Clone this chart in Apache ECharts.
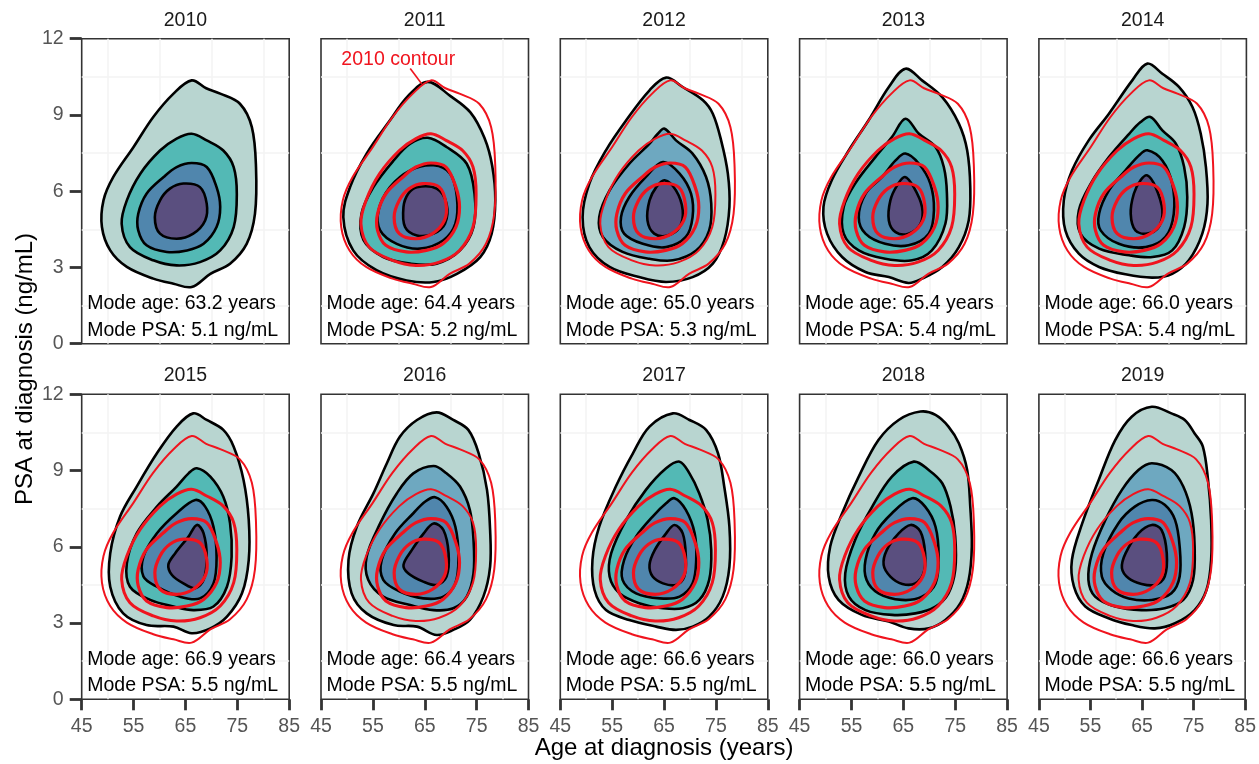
<!DOCTYPE html>
<html>
<head>
<meta charset="utf-8">
<script src="https://cdn.jsdelivr.net/npm/echarts@6/dist/echarts.min.js"></script>
<style>html,body{margin:0;padding:0;background:#fff}#main{width:1259px;height:764px}</style>
</head>
<body>
<div id="main"></div>
<script>
const years = [2010, 2011, 2012, 2013, 2014, 2015, 2016, 2017, 2018, 2019];
const modeAge = [63.2, 64.4, 65.0, 65.4, 66.0, 66.9, 66.4, 66.6, 66.0, 66.6];
const modePsa = [5.1, 5.2, 5.3, 5.4, 5.4, 5.5, 5.5, 5.5, 5.5, 5.5];
const ageRange = [45, 85, 10];
const psaRange = [0, 12, 3];
// years where the 2nd band is drawn in the lighter blue
const lightBand2Years = [2012, 2016, 2019];

// contours, outer -> inner, points [age, psa]
const c2010 = [
  [[66.2,10.36],[69.0,10.05],[71.7,9.84],[75.5,9.44],[77.8,8.52],[78.6,6.95],[78.4,5.11],[76.8,3.93],[73.6,3.15],[69.8,2.75],[66.2,2.23],[62.7,2.36],[58.8,2.56],[53.7,3.02],[50.5,3.67],[48.9,4.59],[49.2,5.64],[51.1,6.56],[55.0,7.74],[58.8,8.92],[62.7,9.84]],
  [[66.2,8.26],[69.1,8.0],[72.3,7.6],[74.3,6.95],[74.9,5.9],[74.3,4.59],[71.7,3.67],[67.8,3.21],[63.3,3.08],[58.8,3.28],[54.3,3.8],[52.7,4.72],[53.7,5.64],[56.3,6.69],[60.1,7.6],[63.3,8.07]],
  [[66.2,7.11],[69.1,6.95],[71.0,6.16],[71.7,5.38],[71.0,4.59],[68.5,3.93],[65.3,3.67],[61.4,3.61],[57.5,3.87],[55.9,4.46],[55.9,5.11],[57.5,5.9],[60.8,6.56],[63.3,6.95]],
  [[64.6,6.3],[67.8,6.16],[69.1,5.51],[68.8,4.85],[66.5,4.33],[63.3,4.13],[60.1,4.33],[59.1,4.98],[60.1,5.64],[62.0,6.1]]
];
const c2011 = [
  [[65.6,10.3],[69.9,9.75],[73.8,9.1],[76.5,8.1],[78.0,7.0],[78.6,5.64],[77.9,4.33],[75.7,3.41],[71.2,2.75],[66.7,2.43],[61.5,2.49],[55.7,2.89],[51.2,3.67],[49.3,4.98],[50.6,6.16],[53.8,7.48],[58.3,8.79],[61.8,9.75]],
  [[65.6,8.1],[69.2,7.74],[73.1,7.08],[74.6,5.9],[74.4,4.59],[71.8,3.67],[67.3,3.15],[62.2,3.15],[57.0,3.41],[53.2,4.07],[52.8,5.11],[55.1,6.16],[59.0,7.21],[62.2,7.87]],
  [[66.7,7.02],[69.9,6.69],[71.2,5.77],[70.9,4.72],[68.6,4.07],[64.1,3.74],[59.6,3.93],[56.4,4.46],[56.1,5.25],[58.3,6.16],[62.2,6.82]],
  [[63.5,6.16],[67.3,6.1],[69.2,5.51],[68.9,4.72],[66.7,4.33],[63.5,4.26],[61.2,4.59],[60.9,5.38],[61.8,5.9]]
];
const c2012 = [
  [[65.4,10.47],[68.6,10.1],[72.5,9.58],[74.4,9.05],[76.0,8.0],[77.3,6.69],[77.6,5.38],[76.6,4.07],[74.4,3.15],[70.5,2.62],[65.4,2.43],[60.2,2.62],[54.5,3.02],[50.6,3.8],[49.3,4.98],[50.6,6.3],[53.8,7.61],[57.7,8.79],[62.2,9.97]],
  [[65.1,8.46],[67.3,8.0],[70.5,7.48],[73.1,6.56],[74.1,5.51],[73.7,4.46],[71.2,3.67],[66.7,3.28],[62.2,3.34],[57.0,3.61],[53.2,4.2],[52.5,4.98],[54.5,6.03],[58.3,7.08],[62.2,7.87],[63.8,8.26]],
  [[64.8,7.15],[68.0,6.69],[70.2,5.9],[70.5,4.98],[69.2,4.2],[65.4,3.8],[60.9,3.93],[57.3,4.33],[56.7,4.98],[58.3,5.77],[61.5,6.56]],
  [[65.1,6.43],[67.3,6.03],[68.6,5.25],[68.0,4.59],[65.7,4.26],[63.1,4.33],[61.8,4.85],[62.2,5.64],[63.5,6.16]]
];
const c2013 = [
  [[65.4,10.82],[68.6,10.36],[72.5,9.7],[75.7,8.66],[77.3,7.61],[77.9,6.16],[77.6,4.85],[75.7,3.8],[72.5,3.02],[68.6,2.56],[66.0,2.39],[62.2,2.62],[57.7,2.82],[53.2,3.41],[50.3,4.33],[49.6,5.38],[51.2,6.43],[54.5,7.61],[58.3,8.79],[62.2,10.1]],
  [[65.4,8.85],[68.0,8.26],[71.2,7.74],[72.8,6.95],[73.4,5.9],[73.1,4.72],[70.5,3.67],[66.7,3.28],[61.5,3.34],[56.4,3.67],[53.5,4.33],[53.5,5.38],[55.7,6.3],[59.6,7.34],[62.8,8.13]],
  [[65.4,7.48],[68.0,7.08],[70.2,6.3],[70.9,5.25],[69.9,4.33],[66.0,3.87],[61.5,3.93],[57.7,4.33],[56.4,4.98],[57.7,5.9],[60.9,6.56],[63.5,7.21]],
  [[65.3,6.56],[67.0,6.16],[68.6,5.38],[68.3,4.72],[66.0,4.33],[63.5,4.39],[62.2,4.85],[62.5,5.64],[63.8,6.23]]
];
const c2014 = [
  [[65.9,11.02],[68.8,10.62],[72.0,10.1],[74.6,9.31],[76.2,8.26],[77.2,6.95],[77.5,5.51],[76.5,4.33],[73.9,3.28],[70.7,2.75],[66.9,2.6],[61.7,2.73],[56.6,3.02],[52.7,3.54],[50.1,4.46],[49.8,5.64],[51.4,6.82],[54.6,8.0],[58.5,9.05],[63.0,10.36]],
  [[66.5,8.92],[68.8,8.39],[71.4,7.87],[73.0,6.95],[73.6,5.77],[73.0,4.59],[70.7,3.67],[66.9,3.41],[62.4,3.48],[56.6,3.74],[53.0,4.33],[52.7,5.25],[55.0,6.3],[58.5,7.34],[62.4,8.26],[64.6,8.72]],
  [[65.9,7.61],[68.8,7.21],[70.7,6.3],[71.0,5.11],[69.4,4.2],[65.6,3.8],[60.4,3.93],[56.9,4.46],[56.6,5.11],[58.5,6.03],[61.7,6.82],[64.3,7.41]],
  [[65.9,6.62],[67.5,6.16],[68.8,5.25],[68.1,4.59],[65.9,4.33],[63.6,4.46],[62.7,5.11],[63.3,5.9],[64.6,6.43]]
];
const c2015 = [
  [[66.5,11.25],[69.1,10.99],[72.3,10.6],[74.3,9.94],[76.2,8.63],[77.2,7.06],[77.2,5.48],[75.9,4.17],[73.0,3.25],[69.8,2.79],[66.2,2.6],[62.7,2.86],[57.5,2.92],[53.0,3.38],[50.5,4.43],[50.5,5.74],[52.4,7.19],[55.6,8.37],[59.5,9.68],[63.3,10.73]],
  [[67.2,9.09],[69.8,8.76],[72.3,7.97],[73.6,6.92],[73.9,5.61],[73.0,4.43],[70.4,3.65],[66.5,3.51],[62.7,3.65],[58.2,3.91],[54.3,4.43],[53.7,5.35],[55.6,6.53],[59.5,7.58],[63.3,8.37],[65.6,8.89]],
  [[66.9,7.84],[68.8,7.58],[70.4,6.79],[71.0,5.61],[70.4,4.56],[67.8,3.97],[63.9,4.04],[59.5,4.43],[56.9,4.83],[56.9,5.61],[59.5,6.53],[63.3,7.32]],
  [[67.2,6.86],[68.5,6.53],[69.1,5.61],[68.5,4.7],[66.9,4.37],[64.6,4.56],[62.4,4.89],[61.7,5.29],[63.0,5.74],[65.6,6.4]]
];
const c2016 = [
  [[67.3,11.29],[70.5,10.99],[73.4,10.6],[75.4,9.68],[77.0,8.24],[77.6,6.66],[77.6,5.22],[76.3,4.04],[73.7,3.12],[70.5,2.73],[67.3,2.53],[63.5,2.86],[59.0,2.92],[53.8,3.38],[50.9,4.17],[50.3,5.48],[51.9,6.79],[55.1,8.1],[57.7,9.29],[60.2,10.33],[63.5,10.99]],
  [[66.7,9.18],[69.2,8.89],[71.8,8.37],[73.7,7.45],[74.4,6.27],[74.4,4.96],[73.1,4.04],[70.5,3.58],[66.7,3.51],[62.2,3.71],[57.0,4.04],[54.1,4.7],[53.8,5.61],[56.4,6.92],[59.6,8.1],[62.8,8.89]],
  [[67.0,7.95],[69.2,7.58],[70.9,6.79],[71.5,5.61],[70.9,4.56],[68.6,4.04],[64.7,3.97],[60.2,4.24],[57.0,4.7],[56.7,5.48],[59.3,6.53],[62.8,7.32],[65.1,7.78]],
  [[66.7,6.92],[68.6,6.66],[69.6,5.74],[69.2,4.83],[67.3,4.5],[64.7,4.63],[61.8,4.96],[60.9,5.29],[62.5,5.87],[64.8,6.53]]
];
const c2017 = [
  [[66.7,11.25],[69.9,10.99],[73.1,10.6],[75.4,9.68],[76.6,8.37],[77.6,6.79],[77.6,5.22],[76.3,4.04],[73.7,3.25],[70.5,2.86],[67.3,2.73],[63.5,2.86],[58.3,3.12],[53.8,3.51],[51.6,4.3],[51.2,5.48],[52.5,6.79],[55.7,8.37],[59.0,9.68],[62.2,10.73]],
  [[68.0,9.35],[69.9,8.89],[71.8,8.1],[73.4,7.06],[74.1,5.87],[73.7,4.7],[71.8,3.91],[68.6,3.58],[64.8,3.58],[60.2,3.78],[56.4,4.17],[54.5,4.83],[54.8,5.74],[57.7,7.06],[61.5,8.24],[65.4,9.09]],
  [[67.0,7.91],[69.2,7.45],[70.9,6.53],[71.2,5.48],[70.5,4.56],[68.0,4.04],[64.2,3.97],[59.6,4.17],[57.0,4.7],[57.3,5.48],[59.6,6.4],[62.8,7.19],[65.4,7.71]],
  [[67.0,6.86],[68.6,6.53],[69.2,5.61],[68.9,4.83],[67.3,4.5],[64.8,4.56],[62.8,4.83],[62.2,5.29],[63.2,5.87],[65.4,6.53]]
];
const c2018 = [
  [[68.3,11.32],[71.2,11.19],[73.7,10.73],[75.7,10.07],[77.3,9.02],[77.9,7.58],[78.2,6.01],[77.6,4.7],[76.0,3.78],[73.1,3.12],[69.9,2.79],[66.0,2.79],[62.2,3.06],[57.0,3.32],[52.5,3.91],[50.6,4.83],[50.9,6.01],[53.2,7.32],[56.4,8.76],[60.2,10.2],[64.1,10.99]],
  [[67.0,9.35],[69.9,9.02],[72.5,8.5],[74.1,7.58],[75.0,6.4],[75.0,5.09],[73.7,4.17],[71.2,3.65],[67.3,3.38],[62.8,3.32],[57.7,3.51],[54.5,4.04],[53.8,4.96],[55.7,6.27],[59.0,7.58],[62.8,8.76]],
  [[66.7,7.91],[69.2,7.58],[71.2,6.79],[71.8,5.61],[71.2,4.56],[68.6,4.04],[64.7,3.91],[60.2,4.17],[57.9,4.7],[57.7,5.48],[59.6,6.53],[62.8,7.32]],
  [[66.4,6.86],[68.3,6.6],[69.2,5.74],[68.9,4.96],[67.3,4.56],[64.8,4.54],[62.5,4.83],[61.2,5.29],[61.8,5.87],[64.1,6.53]]
];
const c2019 = [
  [[66.9,11.51],[70.7,11.25],[73.3,10.99],[75.2,10.46],[76.8,9.94],[77.8,8.63],[78.4,7.06],[78.4,5.48],[77.5,4.3],[75.2,3.51],[71.4,2.99],[67.5,2.79],[63.0,2.92],[58.5,3.19],[54.0,3.65],[51.8,4.43],[51.4,5.48],[53.4,6.92],[56.6,8.63],[59.8,10.2],[63.0,11.12]],
  [[66.9,9.29],[70.7,9.02],[73.0,8.37],[74.6,7.32],[75.2,6.01],[74.9,4.7],[73.0,3.91],[69.4,3.58],[64.9,3.51],[59.8,3.65],[55.9,4.04],[54.6,4.7],[55.3,5.74],[57.9,7.06],[61.1,8.24],[64.3,9.02]],
  [[66.9,7.84],[69.4,7.65],[71.4,7.06],[72.3,6.01],[72.3,4.83],[70.7,4.17],[66.9,3.91],[62.4,3.97],[59.1,4.3],[57.2,4.83],[57.5,5.74],[60.4,6.92],[63.6,7.58]],
  [[66.9,6.86],[68.8,6.66],[69.8,5.74],[69.4,4.83],[67.5,4.5],[64.9,4.54],[62.4,4.76],[61.1,5.16],[61.8,5.74],[64.3,6.53]]
];
const contours = [c2010, c2011, c2012, c2013, c2014, c2015, c2016, c2017, c2018, c2019];

const annotation = { text: '2010 contour', textAt: [59.9, 11.18], line: [[62.2, 10.83], [64.4, 10.23]] };

// layout
const LEFT0 = 81.7, STEP = 239.3, PW = 207.5, PH = 305, TOPS = [38.7, 394.3];
const FONT = '"Liberation Sans", Arial, Helvetica, sans-serif';
const RED = '#f0141e';
const FILL = { outer: '#b8d5d0', teal: '#53b9b5', light: '#6ea8c0', blue: '#5086ad', inner: '#5a4f7f' };

const chart = echarts.init(document.getElementById('main'), null, { renderer: 'canvas' });

const grids = [], xAxes = [], yAxes = [], series = [], graphics = [];

years.forEach((yr, k) => {
  const col = k % 5, row = Math.floor(k / 5);
  const left = LEFT0 + STEP * col, top = TOPS[row];
  grids.push({ left, top, width: PW, height: PH, show: true, borderColor: '#333', borderWidth: 1.6, backgroundColor: '#fff' });

  const showX = row === 1, showY = col === 0;
  const minor = { show: true, lineStyle: { color: '#f4f4f4', width: 1.5 } };
  xAxes.push({
    gridIndex: k, type: 'value', min: ageRange[0], max: ageRange[1], interval: ageRange[2],
    axisLine: { show: false },
    axisTick: { show: showX, length: 11, lineStyle: { color: '#333', width: 2.8 } },
    axisLabel: { show: showX, margin: 17, color: '#555', fontSize: 19.5, fontFamily: FONT },
    splitLine: { show: false },
    minorTick: { show: false, splitNumber: 2 },
    minorSplitLine: minor
  });
  yAxes.push({
    gridIndex: k, type: 'value', min: psaRange[0], max: psaRange[1], interval: psaRange[2],
    axisLine: { show: false },
    axisTick: { show: showY, length: 12, lineStyle: { color: '#333', width: 2.8 } },
    axisLabel: { show: showY, margin: 18, color: '#555', fontSize: 19.5, fontFamily: FONT },
    splitLine: { show: false },
    minorTick: { show: false, splitNumber: 2 },
    minorSplitLine: minor
  });

  const rings = contours[k];
  const band2 = lightBand2Years.includes(yr) ? FILL.light : FILL.teal;
  const fills = [FILL.outer, band2, FILL.blue, FILL.inner];
  series.push({
    type: 'custom', coordinateSystem: 'cartesian2d', xAxisIndex: k, yAxisIndex: k,
    silent: true, z: 2,
    data: rings.map(r => r[0]),
    renderItem: (params, api) => {
      const ring = rings[params.dataIndex];
      return {
        type: 'polygon',
        shape: { points: ring.map(p => api.coord(p)), smooth: 0.35 },
        style: { fill: fills[params.dataIndex], stroke: '#000', lineWidth: 2.6 }
      };
    }
  });

  if (k > 0) {
    const thin = lightBand2Years.includes(yr);
    const widths = [2, thin ? 2 : 3, 3.2, 3.2];
    series.push({
      type: 'custom', coordinateSystem: 'cartesian2d', xAxisIndex: k, yAxisIndex: k,
      silent: true, z: 3,
      data: c2010.map(r => r[0]),
      renderItem: (params, api) => {
        const ring = c2010[params.dataIndex];
        return {
          type: 'polygon',
          shape: { points: ring.map(p => api.coord(p)), smooth: 0.35 },
          style: { fill: 'none', stroke: RED, lineWidth: widths[params.dataIndex] }
        };
      }
    });
  }

  // panel title and mode text
  graphics.push({ type: 'text', x: left + PW / 2, y: top - 18.5, silent: true,
    style: { text: String(yr), fill: '#1a1a1a', fontSize: 19.5, fontFamily: FONT, align: 'center', verticalAlign: 'middle' } });
  graphics.push({ type: 'text', x: left + 5.5, y: top + PH - 40, silent: true,
    style: { text: 'Mode age: ' + modeAge[k].toFixed(1) + ' years', fill: '#000', fontSize: 19.5, fontFamily: FONT, align: 'left', verticalAlign: 'middle' } });
  graphics.push({ type: 'text', x: left + 5.5, y: top + PH - 13.5, silent: true,
    style: { text: 'Mode PSA: ' + modePsa[k].toFixed(1) + ' ng/mL', fill: '#000', fontSize: 19.5, fontFamily: FONT, align: 'left', verticalAlign: 'middle' } });
});

// leader line for the "2010 contour" note
series.push({
  type: 'line', xAxisIndex: 1, yAxisIndex: 1, data: annotation.line, symbol: 'none', silent: true, z: 4,
  lineStyle: { color: RED, width: 1.6 }
});

// axis titles
graphics.push({ type: 'text', x: (LEFT0 + LEFT0 + STEP * 4 + PW) / 2, y: 748, silent: true,
  style: { text: 'Age at diagnosis (years)', fill: '#000', fontSize: 24, fontFamily: FONT, align: 'center', verticalAlign: 'middle' } });
graphics.push({ type: 'text', x: 25, y: (TOPS[0] + TOPS[1] + PH) / 2, rotation: Math.PI / 2, silent: true,
  style: { text: 'PSA at diagnosis (ng/mL)', fill: '#000', fontSize: 24, fontFamily: FONT, align: 'center', verticalAlign: 'middle' } });

chart.setOption({
  animation: false,
  backgroundColor: '#fff',
  grid: grids, xAxis: xAxes, yAxis: yAxes, series
});

const at = chart.convertToPixel({ gridIndex: 1 }, annotation.textAt);
graphics.push({ type: 'text', x: at[0], y: at[1], silent: true, z: 10,
  style: { text: annotation.text, fill: RED, fontSize: 19.5, fontFamily: FONT, align: 'center', verticalAlign: 'middle' } });

chart.setOption({ graphic: graphics });
</script>
</body>
</html>
